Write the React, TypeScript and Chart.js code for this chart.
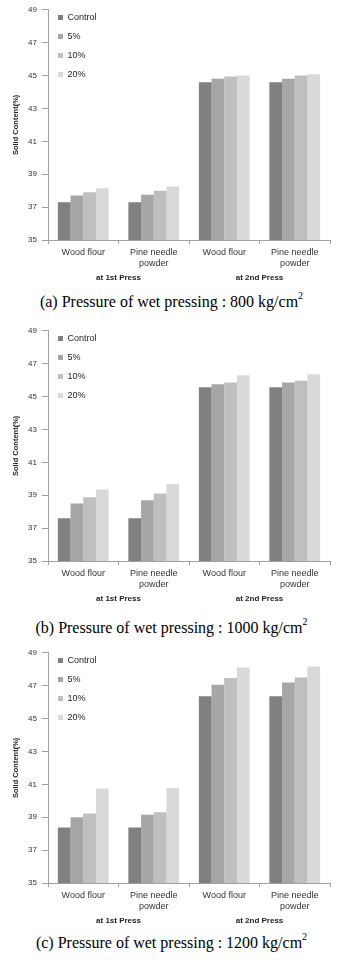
import React, { useEffect, useRef } from 'react';
import { Chart, registerables } from 'chart.js';

Chart.register(...registerables);

const categories: (string | string[])[] = ['Wood flour', ['Pine needle', 'powder'], 'Wood flour', ['Pine needle', 'powder']];
const groupLabels = ['at 1st Press', 'at 2nd Press'];
const seriesNames = ['Control', '5%', '10%', '20%'];
const seriesColors = ['#808080', '#a6a6a6', '#bfbfbf', '#d9d9d9'];
const yMin = 35;
const yMax = 49;
const yStep = 2;
const yTitle = 'Solid Content(%)';

// (a) 800 kg/cm2
const p800Control = [37.3, 37.3, 44.6, 44.6];
const p800Five = [37.7, 37.75, 44.8, 44.8];
const p800Ten = [37.9, 38.0, 44.95, 45.0];
const p800Twenty = [38.15, 38.25, 45.0, 45.08];

// (b) 1000 kg/cm2
const p1000Control = [37.6, 37.6, 45.56, 45.56];
const p1000Five = [38.5, 38.7, 45.75, 45.85];
const p1000Ten = [38.88, 39.1, 45.86, 45.96];
const p1000Twenty = [39.35, 39.68, 46.3, 46.35];

// (c) 1200 kg/cm2
const p1200Control = [38.38, 38.38, 46.35, 46.35];
const p1200Five = [39.0, 39.15, 47.06, 47.2];
const p1200Ten = [39.22, 39.3, 47.47, 47.5];
const p1200Twenty = [40.74, 40.78, 48.11, 48.16];

const captionPrefixes = ['(a) Pressure of wet pressing : 800 kg/cm', '(b) Pressure of wet pressing : 1000 kg/cm', '(c) Pressure of wet pressing : 1200 kg/cm'];

const panels = [
  { series: [p800Control, p800Five, p800Ten, p800Twenty], caption: captionPrefixes[0], top: 0, captionCenter: 302 },
  { series: [p1000Control, p1000Five, p1000Ten, p1000Twenty], caption: captionPrefixes[1], top: 321, captionCenter: 628 },
  { series: [p1200Control, p1200Five, p1200Ten, p1200Twenty], caption: captionPrefixes[2], top: 643, captionCenter: 943 },
];

const SANS = '"Liberation Sans", Arial, sans-serif';

function BarPanel({ series }: { series: number[][] }) {
  const ref = useRef<HTMLCanvasElement | null>(null);
  useEffect(() => {
    if (!ref.current) return;
    const chart = new Chart(ref.current, {
      type: 'bar',
      data: {
        labels: categories as any,
        datasets: series.map((vals, i) => ({
          label: seriesNames[i],
          data: vals,
          backgroundColor: seriesColors[i],
          borderWidth: 0,
          categoryPercentage: 0.72,
          barPercentage: 1,
          xAxisID: 'x',
          yAxisID: 'y',
        })),
      },
      options: {
        animation: false,
        responsive: false,
        maintainAspectRatio: false,
        devicePixelRatio: 1,
        layout: { padding: { top: 9, right: 13, bottom: 0, left: 0 } },
        plugins: {
          legend: {
            position: 'chartArea' as any,
            align: 'start',
            title: { display: true, text: '', font: { size: 1, lineHeight: 1 }, padding: { top: 2, bottom: 0 } },
            labels: {
              boxWidth: 5,
              boxHeight: 5,
              padding: 10,
              color: '#222',
              font: { size: 9, family: SANS },
            },
          },
          tooltip: { enabled: false },
        },
        scales: {
          x: {
            type: 'category',
            position: 'bottom',
            weight: 0,
            grid: { display: true, drawOnChartArea: false, offset: true, tickLength: 4, color: '#a0a0a0' },
            border: { display: true, color: '#a0a0a0' },
            ticks: { font: { size: 9, family: SANS, lineHeight: 1.2 }, color: '#333', padding: 3, maxRotation: 0, autoSkip: false },
            afterFit: (s: any) => { s.height = 30; },
          },
          x2: {
            type: 'category',
            labels: groupLabels,
            position: 'bottom',
            weight: 1,
            offset: true,
            grid: { display: false, drawTicks: false },
            border: { display: false },
            ticks: { font: { size: 8, weight: 'bold', family: SANS }, color: '#222', padding: 3 },
            afterFit: (s: any) => { s.height = 15; },
          },
          y: {
            min: yMin,
            max: yMax,
            ticks: { stepSize: yStep, font: { size: 8, family: SANS }, color: '#333', padding: 5 },
            grid: { display: true, drawOnChartArea: false, tickLength: 6, color: '#a0a0a0' },
            border: { display: true, color: '#a0a0a0' },
            title: { display: true, text: yTitle, color: '#222', font: { size: 7.5, weight: 'bold', family: SANS }, padding: { top: 11, bottom: 0 } },
            afterFit: (s: any) => { s.width = 48; },
          },
        },
      } as any,
    });
    return () => chart.destroy();
  }, [series]);
  return <canvas ref={ref} width={343} height={285} style={{ display: 'block', width: 343, height: 285 }} />;
}

export default function App() {
  return (
    <div style={{ position: 'absolute', left: 0, top: 0, width: 343, height: 964, background: '#fff' }}>
      {panels.map((p, i) => (
        <React.Fragment key={i}>
          <div style={{ position: 'absolute', left: 0, top: p.top, width: 343, height: 285 }}>
            <BarPanel series={p.series} />
          </div>
          <div
            style={{
              position: 'absolute',
              left: 0,
              top: p.captionCenter - 11,
              width: 343,
              height: 22,
              lineHeight: '22px',
              textAlign: 'center',
              fontFamily: '"Liberation Serif", "Times New Roman", serif',
              fontSize: 16,
              color: '#000',
              whiteSpace: 'nowrap',
            }}
          >
            {p.caption}
            <span style={{ fontSize: 10, position: 'relative', top: -8 }}>2</span>
          </div>
        </React.Fragment>
      ))}
    </div>
  );
}
